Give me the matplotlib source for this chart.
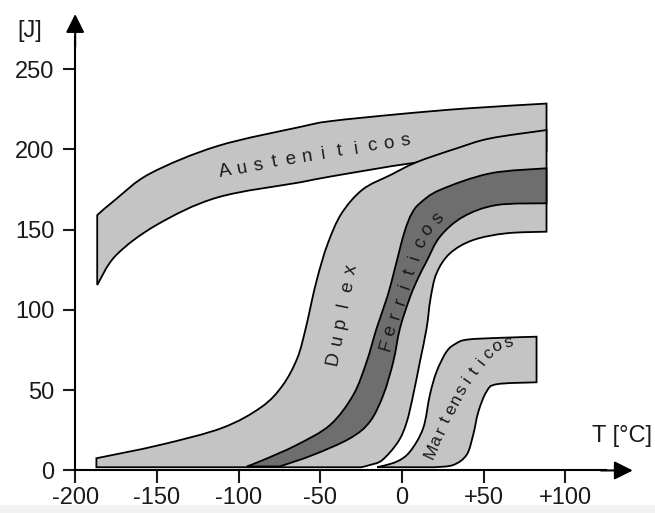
import numpy as np
import matplotlib
matplotlib.use('Agg')
import matplotlib.pyplot as plt
from matplotlib.path import Path
from matplotlib.patches import PathPatch

plt.rcParams['font.family'] = ['Liberation Sans', 'DejaVu Sans']

# ejes
x_ticks = [-200, -150, -100, -50, 0, 50, 100]
x_labels = ['-200', '-150', '-100', '-50', '0', '+50', '+100']
y_ticks = [0, 50, 100, 150, 200, 250]

# Austeniticos (borde superior / inferior)
aus_top_T = [-186.5, -175, -154, -113, -62, -44, -1, 40, 88.5]
aus_top_J = [159, 169, 185, 202, 214, 217.5, 222, 225.5, 228.5]
aus_bot_T = [-186.5, -175, -150, -113, -62, -44, 7, 50, 88.5]
aus_bot_J = [115.5, 134, 153, 170, 179.5, 183, 191.5, 196, 199]

# Duplex: curva izquierda (1) y curva derecha exterior (4)
c1_T = [-187, -148, -110, -86, -73, -64, -59, -55.5, -51.5, -45.5, -37, -24, -7, 9, 33.5, 54, 88.5]
c1_J = [7.6, 15.9, 26.5, 39.5, 53, 70, 88, 104, 121, 141, 160, 175, 184, 192, 200.6, 206.8, 212]
c4_T = [-25, -19.6, -12, -2.3, 2.9, 6.9, 11, 15.1, 17.5, 21.2, 29.4, 43.6, 64, 88.5]
c4_J = [2, 3.4, 6.5, 17.9, 30, 47, 67.7, 88.5, 107, 122.8, 135.2, 143.5, 147.7, 148.7]

# Ferriticos (banda oscura): curvas 2 y 3
c2_T = [-95, -84.9, -64.4, -44, -29.8, -21.6, -15.5, -9, -5, -1.5, 2, 6, 11, 23.3, 53.9, 88.5]
c2_J = [2.5, 6.5, 15.9, 28.3, 47, 67.7, 88.5, 108, 123, 137, 150, 160, 166.4, 174.7, 185, 188.2]
c3_T = [-74.7, -54.3, -31.8, -19.6, -11.4, -5.3, -1.2, 5, 10, 15, 23.3, 37.5, 58, 88.5]
c3_J = [2.5, 9.7, 20, 30.4, 47, 67.7, 88.5, 108, 120, 130, 145.6, 158, 165.3, 166.4]

# Martensiticos
mar_top_T = [-15, -3.2, 4.9, 13, 17.1, 21.2, 27.3, 33, 40, 60, 82.4]
mar_top_J = [2, 5.5, 11.7, 26.3, 47, 61.5, 74, 79, 81.5, 82.6, 83.3]
mar_bot_T = [82.4, 58, 51.8, 46.8, 43.6, 39.6, 31.4, 20]
mar_bot_J = [54.9, 53.7, 49.1, 36.6, 22.1, 9.7, 3.4, 2]

light = '#c4c4c4'
dark = '#6e6e6e'
ink = '#1a1a1a'


def suave(piezas):
    # piezas: lista de (xs, ys, suave?) -> Path cerrado; tramos suaves como Bezier
    verts, codes = [], []
    for xs, ys, curva in piezas:
        p = np.column_stack([xs, ys]).astype(float)
        if not verts:
            verts.append(p[0]); codes.append(Path.MOVETO)
        elif not np.allclose(verts[-1], p[0]):
            verts.append(p[0]); codes.append(Path.LINETO)
        if not curva or len(p) < 3:
            for q in p[1:]:
                verts.append(q); codes.append(Path.LINETO)
            continue
        ext = np.vstack([p[0], p, p[-1]])
        for i in range(1, len(ext) - 2):
            a = ext[i] + (ext[i + 1] - ext[i - 1]) / 6
            b = ext[i + 1] - (ext[i + 2] - ext[i]) / 6
            verts += [a, b, ext[i + 1]]
            codes += [Path.CURVE4] * 3
    verts.append(verts[0]); codes.append(Path.CLOSEPOLY)
    return Path(verts, codes)


fig = plt.figure(figsize=(6.55, 5.13), dpi=100)
ax = fig.add_axes([0, 0, 1, 1])
ax.set_xlim(-246, 154.9)
ax.set_ylim(-26.5, 293)
ax.axhspan(-26.5, -21.5, color='#f2f2f2', lw=0, zorder=0)

bandas = [
    ([(aus_top_T, aus_top_J, True), (aus_bot_T[::-1], aus_bot_J[::-1], True)], light),
    ([([-187], [2], False), (c1_T, c1_J, True), (c4_T[::-1], c4_J[::-1], True)], light),
    ([(c2_T, c2_J, True), (c3_T[::-1], c3_J[::-1], True)], dark),
    ([(mar_top_T, mar_top_J, True), (mar_bot_T, mar_bot_J, True)], light),
]
for piezas, color in bandas:
    ax.add_patch(PathPatch(suave(piezas), facecolor=color, edgecolor='black',
                           lw=1.3, zorder=2))

# ejes con flechas
for s in ['top', 'right']:
    ax.spines[s].set_visible(False)
ax.spines['left'].set_position(('data', -200))
ax.spines['bottom'].set_position(('data', 0))
ax.spines['left'].set_bounds(0, 270)
ax.spines['bottom'].set_bounds(-200, 125)
for s in ['left', 'bottom']:
    ax.spines[s].set_linewidth(1.5)
    ax.spines[s].set_zorder(5)
ax.annotate('', xy=(-200, 286), xytext=(-200, 262),
            arrowprops=dict(arrowstyle='-|>', color='black', lw=1.5, mutation_scale=28))
ax.annotate('', xy=(143, 0), xytext=(120, 0),
            arrowprops=dict(arrowstyle='-|>', color='black', lw=1.5, mutation_scale=28))

ax.set_xticks(x_ticks)
ax.set_xticklabels(x_labels)
ax.set_yticks(y_ticks)
ax.tick_params(direction='out', length=9, width=1.5, labelsize=17, colors=ink)
ax.tick_params(axis='y', pad=6)
ax.tick_params(axis='x', pad=3)

ax.text(-228, 274, '[J]', fontsize=17, ha='center', va='center', color=ink)
ax.text(135, 21.5, 'T [°C]', fontsize=17, ha='center', va='center', color=ink)


def letras(texto, pts, size):
    # reparte las letras a lo largo de una polilinea (en pixeles)
    xy = ax.transData.transform(np.array(pts, dtype=float))
    seg = np.diff(xy, axis=0)
    d = np.concatenate([[0], np.cumsum(np.hypot(seg[:, 0], seg[:, 1]))])
    inv = ax.transData.inverted()
    n = len(texto)
    for i, ch in enumerate(texto):
        t = d[-1] * i / (n - 1)
        k = min(np.searchsorted(d, t, side='right') - 1, len(seg) - 1)
        f = (t - d[k]) / (d[k + 1] - d[k])
        p = xy[k] + f * seg[k]
        ang = np.degrees(np.arctan2(seg[k, 1], seg[k, 0]))
        xd, yd = inv.transform(p)
        ax.text(xd, yd, ch, rotation=ang, rotation_mode='anchor',
                ha='center', va='center', fontsize=size, color=ink, zorder=6)


letras('Austeniticos', [(-108, 186), (-59, 195.5), (2, 205)], 13.5)
letras('Duplex', [(-42, 70), (-31, 125)], 13.5)
letras('Ferriticos', [(-9.5, 78), (-3, 100), (3, 117), (8, 133), (14, 148), (22, 157)], 13.5)
letras('Martensiticos', [(18, 12), (23.5, 24), (31, 40), (38, 53), (45, 63),
                         (52, 72), (58, 77.5), (65, 79.5)], 12.5)

fig.savefig('out.png', dpi=100)
